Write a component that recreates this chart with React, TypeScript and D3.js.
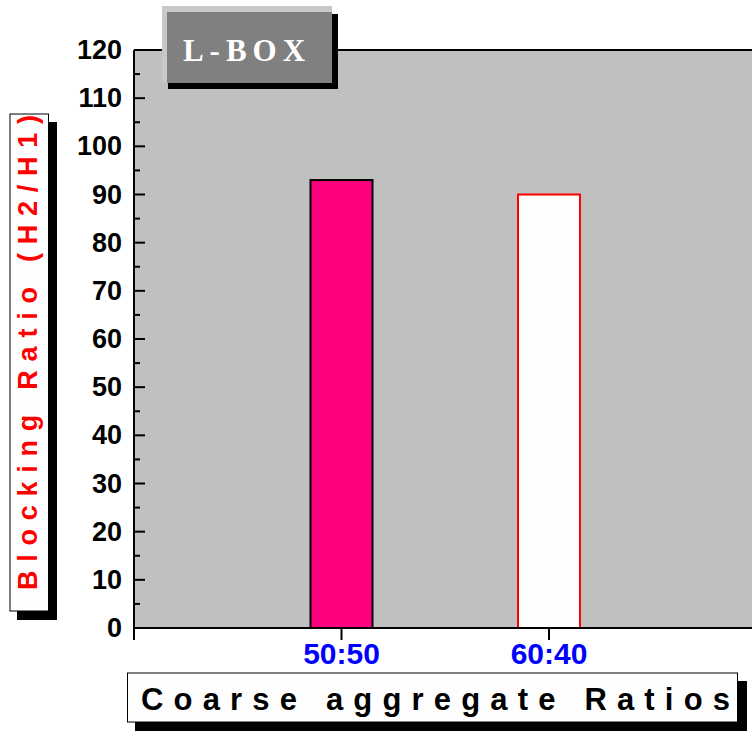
import React from "react";
import * as d3 from "d3";

const categories = ["50:50", "60:40"];
const values = [93, 90];
const barFills = ["#ff007f", "#fefefe"];
const barStrokes = ["#000000", "#ff0000"];
const yMajorTicks = [0, 10, 20, 30, 40, 50, 60, 70, 80, 90, 100, 110, 120];
const yMinorTicks = [5, 15, 25, 35, 45, 55, 65, 75, 85, 95, 105, 115];
const titleText = "L-BOX";
const yLabel = "Blocking  Ratio (H2/H1)";
const xLabel = "Coarse  aggregate  Ratios";

const W = 752;
const H = 732;
const left = 134;
const top = 50;
const bottom = 628;

export default function App() {
  const y = d3.scaleLinear().domain([0, 120]).range([bottom, top]);
  const x = d3.scaleLinear().domain([0, 3]).range([left, 756.5]);
  const barW = 62;
  const sans = "'Liberation Sans', Arial, sans-serif";
  const serif = "'Liberation Serif', 'Times New Roman', serif";
  return (
    <svg width={W} height={H} style={{ position: "absolute", left: 0, top: 0 }}>
      <rect x={0} y={0} width={W} height={H} fill="#ffffff" />
      {/* plot background */}
      <rect x={left} y={top} width={W - left + 10} height={bottom - top} fill="#c0c0c0" />
      {/* top border */}
      <line x1={left} x2={W} y1={top} y2={top} stroke="#000" strokeWidth={2} />
      {/* bars */}
      {values.map((v, i) => (
        <rect
          key={i}
          x={x(i + 1) - barW / 2}
          y={y(v)}
          width={barW}
          height={y(0) - y(v)}
          fill={barFills[i]}
          stroke={barStrokes[i]}
          strokeWidth={2}
        />
      ))}
      {/* x axis */}
      <line x1={left} x2={W} y1={bottom} y2={bottom} stroke="#000" strokeWidth={2} />
      {[0, 1, 2, 3].map((t) => (
        <line key={t} x1={x(t)} x2={x(t)} y1={bottom} y2={bottom + 12} stroke="#000" strokeWidth={2} />
      ))}
      {categories.map((c, i) => (
        <text
          key={c}
          x={x(i + 1)}
          y={664}
          textAnchor="middle"
          fontFamily={sans}
          fontWeight="bold"
          fontSize={30}
          fill="#0000ff"
        >
          {c}
        </text>
      ))}
      {/* y axis */}
      <line x1={left} x2={left} y1={top} y2={bottom + 12} stroke="#000" strokeWidth={2} />
      {yMajorTicks.map((t) => (
        <g key={t}>
          <line x1={left} x2={left + 11} y1={y(t)} y2={y(t)} stroke="#000" strokeWidth={2} />
          <text
            x={122}
            y={y(t) + 9}
            textAnchor="end"
            fontFamily={sans}
            fontWeight="bold"
            fontSize={27}
            fill="#000"
          >
            {t}
          </text>
        </g>
      ))}
      {yMinorTicks.map((t) => (
        <line key={t} x1={left} x2={left + 6} y1={y(t)} y2={y(t)} stroke="#000" strokeWidth={2} />
      ))}
      {/* title box */}
      <rect x={168} y={14} width={170} height={75} fill="#000" />
      <rect x={162} y={6} width={170} height={77} fill="#c8c8c8" />
      <rect x={167} y={12} width={165} height={71} fill="#808080" />
      <text
        x={247}
        y={61}
        textAnchor="middle"
        fontFamily={serif}
        fontWeight="bold"
        fontSize={31}
        fill="#ffffff"
        letterSpacing={6}
      >
        {titleText}
      </text>
      {/* y label box */}
      <rect x={17} y={122} width={40} height={498} fill="#000" />
      <rect x={10} y={114} width={38.5} height={497} fill="#fefefe" stroke="#000" strokeWidth={1} />
      <text
        transform="translate(37,590) rotate(-90)"
        x={0}
        y={0}
        fontFamily={sans}
        fontWeight="bold"
        fontSize={27}
        fill="#ff0000"
        textLength={475}
        lengthAdjust="spacing"
      >
        {yLabel}
      </text>
      {/* x label box */}
      <rect x={135} y={681} width={612} height={50} fill="#000" />
      <rect x={127.5} y={673} width={610} height={49} fill="#fefefe" stroke="#000" strokeWidth={1} />
      <text
        x={141}
        y={710}
        fontFamily={sans}
        fontWeight="bold"
        fontSize={31}
        fill="#000"
        textLength={589}
        lengthAdjust="spacing"
      >
        {xLabel}
      </text>
    </svg>
  );
}
